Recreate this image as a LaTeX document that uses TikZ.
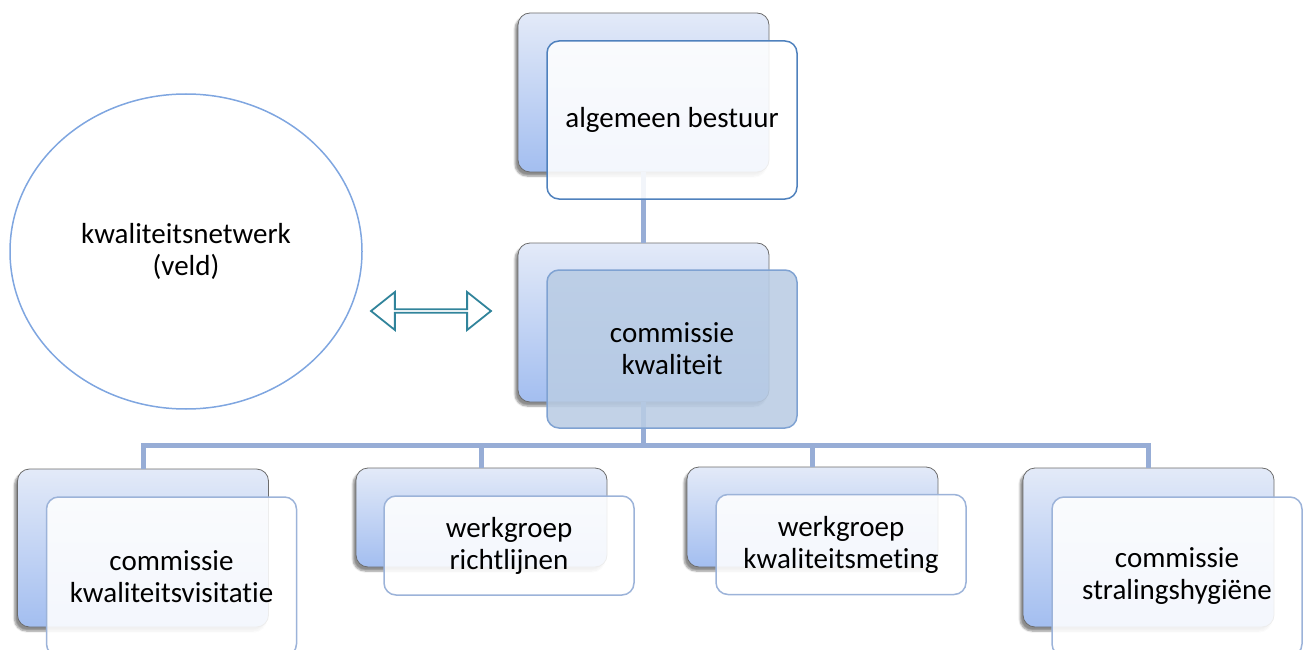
\documentclass[tikz,border=0pt]{standalone}
\usepackage{fontspec}
\setmainfont{Carlito}[Ligatures=NoCommon]
\usetikzlibrary{shapes.geometric,shapes.arrows,shadows.blur}

\definecolor{backtop}{HTML}{E3EAF8}
\definecolor{backbot}{HTML}{A3BEF0}
\definecolor{topline}{HTML}{4F81BD}
\definecolor{midline}{HTML}{7FA2D2}
\definecolor{lowline}{HTML}{9CB3D9}
\definecolor{midfill}{HTML}{B9CCE4}
\definecolor{linkcol}{HTML}{97ADD6}
\definecolor{arrowcol}{HTML}{31849B}
\definecolor{ringcol}{HTML}{7FA6E0}

\tikzset{
    backbox/.style={rectangle, rounded corners=12pt, draw=gray!85!black, line width=0.8pt,
        top color=backtop, bottom color=backbot, minimum width=251pt,
        blur shadow={shadow xshift=-3pt, shadow yshift=-4pt, shadow blur steps=6, shadow opacity=45}},
    frontbox/.style={rectangle, rounded corners=12pt, line width=1.5pt, fill=white,
        fill opacity=0.88, text opacity=1, minimum width=250pt, align=center,
        font=\fontsize{29}{32}\selectfont},
    link/.style={linkcol, line width=5pt},
}

\begin{document}
\begin{tikzpicture}[x=1pt, y=-1pt]
    \useasboundingbox (0, 0) rectangle (1304, 650);

    % linker kant
    \node[ellipse, draw=ringcol, line width=1.5pt, minimum width=352pt, minimum height=315pt,
        align=center, font=\fontsize{29}{32}\selectfont] (veld) at (186, 251.5) {kwaliteitsnetwerk\\(veld)};
    \node[double arrow, draw=arrowcol, line width=1.8pt, fill=white, inner sep=0pt,
        minimum height=120pt, minimum width=38pt, double arrow head extend=8.5pt,
        double arrow head indent=0pt, double arrow tip angle=77] (pijl) at (431, 311) {};

    % achterste kaarten
    \node[backbox, minimum height=159pt] (bestuurB) at (643.5, 92.5) {};
    \node[backbox, minimum height=159pt] (kwaliteitB) at (643.5, 322.5) {};
    \node[backbox, minimum height=158pt] (visitatieB) at (143, 548) {};
    \node[backbox, minimum height=99pt] (richtlijnenB) at (481.5, 517.5) {};
    \node[backbox, minimum height=100pt] (metingB) at (812.5, 517) {};
    \node[backbox, minimum height=159pt] (stralingB) at (1148.5, 547.5) {};

    % lijnen
    \coordinate (bus) at (643.5, 445);
    \draw[link] (bestuurB.south) -- (kwaliteitB.north);
    \draw[link] (kwaliteitB.south) -- (bus);
    \draw[link] (bus) -| (visitatieB.north);
    \draw[link] (bus) -| (richtlijnenB.north);
    \draw[link] (bus) -| (metingB.north);
    \draw[link] (bus) -| (stralingB.north);

    % voorste kaarten
    \node[frontbox, draw=topline, minimum height=158pt] (bestuur) at (672, 120) {algemeen bestuur};
    \node[frontbox, draw=midline, fill=midfill, minimum height=158pt] (kwaliteit) at (672, 349) {commissie\\kwaliteit};
    \node[frontbox, draw=lowline, minimum height=159pt] (visitatie) at (171.5, 576.5) {commissie\\kwaliteitsvisitatie};
    \node[frontbox, draw=lowline, minimum height=99pt] (richtlijnen) at (509, 545.5) {werkgroep\\richtlijnen};
    \node[frontbox, draw=lowline, minimum height=100pt] (meting) at (841, 544.5) {werkgroep\\kwaliteitsmeting};
    \node[frontbox, draw=lowline, minimum height=159pt] (straling) at (1177, 576.5) {commissie\\stralingshygiëne};
\end{tikzpicture}
\end{document}
